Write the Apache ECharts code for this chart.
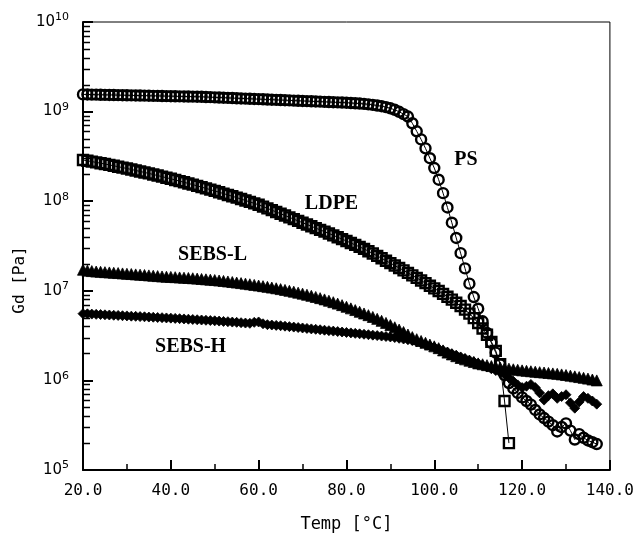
<!DOCTYPE html>
<html>
<head>
<meta charset="utf-8">
<script src="https://cdn.jsdelivr.net/npm/echarts@6/dist/echarts.min.js"></script>
<style>
  html, body { margin: 0; padding: 0; background: #fff; }
  #chart { width: 637px; height: 538px; }
</style>
</head>
<body>
<div id="chart"></div>
<script>
// Temperature sweep, 1 °C steps
const TEMP_C = [
  20, 21, 22, 23, 24, 25, 26, 27, 28, 29,
  30, 31, 32, 33, 34, 35, 36, 37, 38, 39,
  40, 41, 42, 43, 44, 45, 46, 47, 48, 49,
  50, 51, 52, 53, 54, 55, 56, 57, 58, 59,
  60, 61, 62, 63, 64, 65, 66, 67, 68, 69,
  70, 71, 72, 73, 74, 75, 76, 77, 78, 79,
  80, 81, 82, 83, 84, 85, 86, 87, 88, 89,
  90, 91, 92, 93, 94, 95, 96, 97, 98, 99,
  100, 101, 102, 103, 104, 105, 106, 107, 108, 109,
  110, 111, 112, 113, 114, 115, 116, 117, 118, 119,
  120, 121, 122, 123, 124, 125, 126, 127, 128, 129,
  130, 131, 132, 133, 134, 135, 136, 137
];

// log10(Gd / Pa) for each material, one value per temperature step
const PS_LOG_GD = [
  9.192, 9.191, 9.190, 9.189, 9.188, 9.187, 9.186, 9.185, 9.184, 9.183,
  9.182, 9.181, 9.180, 9.179, 9.178, 9.177, 9.176, 9.175, 9.174, 9.173,
  9.172, 9.171, 9.170, 9.169, 9.168, 9.167, 9.166, 9.165, 9.163, 9.161,
  9.159, 9.157, 9.155, 9.153, 9.151, 9.149, 9.147, 9.145, 9.143, 9.141,
  9.139, 9.137, 9.135, 9.133, 9.131, 9.129, 9.127, 9.125, 9.123, 9.121,
  9.119, 9.117, 9.115, 9.113, 9.111, 9.109, 9.107, 9.105, 9.103, 9.101,
  9.099, 9.096, 9.093, 9.090, 9.086, 9.081, 9.075, 9.068, 9.060, 9.050,
  9.037, 9.020, 8.998, 8.972, 8.945, 8.870, 8.780, 8.690, 8.590, 8.480,
  8.370, 8.240, 8.090, 7.930, 7.760, 7.590, 7.420, 7.250, 7.080, 6.930,
  6.800, 6.660, 6.530, 6.420, 6.310, 6.180, 6.060, 5.970, 5.910, 5.860,
  5.810, 5.770, 5.730, 5.670, 5.620, 5.580, 5.540, 5.500, 5.430, 5.480,
  5.520, 5.440, 5.340, 5.400, 5.360, 5.330, 5.310, 5.290
];

const LDPE_LOG_GD = [
  8.460, 8.451, 8.442, 8.433, 8.424, 8.415, 8.405, 8.395, 8.385, 8.375,
  8.365, 8.354, 8.343, 8.332, 8.321, 8.310, 8.298, 8.286, 8.274, 8.262,
  8.250, 8.237, 8.224, 8.211, 8.198, 8.185, 8.171, 8.157, 8.143, 8.129,
  8.115, 8.100, 8.085, 8.070, 8.055, 8.040, 8.024, 8.008, 7.992, 7.976,
  7.960, 7.940, 7.920, 7.900, 7.880, 7.860, 7.840, 7.820, 7.800, 7.780,
  7.760, 7.740, 7.720, 7.700, 7.680, 7.660, 7.640, 7.619, 7.598, 7.577,
  7.556, 7.534, 7.512, 7.490, 7.468, 7.442, 7.416, 7.390, 7.363, 7.336,
  7.309, 7.282, 7.255, 7.228, 7.200, 7.172, 7.144, 7.115, 7.086, 7.057,
  7.027, 6.997, 6.966, 6.934, 6.901, 6.866, 6.830, 6.790, 6.745, 6.695,
  6.640, 6.580, 6.510, 6.430, 6.330, 6.180, 5.770, 5.300
];

const SEBS_L_LOG_GD = [
  7.235, 7.225, 7.220, 7.215, 7.212, 7.208, 7.205, 7.201, 7.198, 7.194,
  7.190, 7.187, 7.183, 7.180, 7.176, 7.172, 7.168, 7.164, 7.160, 7.157,
  7.155, 7.152, 7.149, 7.146, 7.143, 7.140, 7.136, 7.132, 7.128, 7.124,
  7.120, 7.115, 7.110, 7.104, 7.098, 7.092, 7.086, 7.080, 7.073, 7.066,
  7.059, 7.052, 7.044, 7.036, 7.028, 7.019, 7.010, 7.000, 6.990, 6.979,
  6.968, 6.956, 6.944, 6.931, 6.918, 6.904, 6.889, 6.873, 6.857, 6.840,
  6.822, 6.804, 6.785, 6.766, 6.747, 6.728, 6.708, 6.687, 6.665, 6.642,
  6.618, 6.593, 6.567, 6.540, 6.512, 6.483, 6.460, 6.440, 6.420, 6.400,
  6.380, 6.360, 6.335, 6.310, 6.290, 6.270, 6.250, 6.235, 6.220, 6.205,
  6.190, 6.180, 6.170, 6.160, 6.152, 6.145, 6.138, 6.131, 6.124, 6.118,
  6.112, 6.107, 6.102, 6.097, 6.092, 6.088, 6.083, 6.078, 6.073, 6.067,
  6.060, 6.053, 6.045, 6.037, 6.029, 6.020, 6.010, 6.000
];

const SEBS_H_LOG_GD = [
  6.745, 6.743, 6.740, 6.737, 6.735, 6.732, 6.730, 6.727, 6.725, 6.722,
  6.720, 6.717, 6.715, 6.712, 6.710, 6.707, 6.705, 6.702, 6.700, 6.697,
  6.695, 6.692, 6.689, 6.686, 6.683, 6.680, 6.677, 6.674, 6.671, 6.668,
  6.665, 6.662, 6.658, 6.655, 6.651, 6.648, 6.644, 6.640, 6.637, 6.648,
  6.652, 6.632, 6.622, 6.618, 6.614, 6.610, 6.605, 6.600, 6.595, 6.590,
  6.585, 6.580, 6.575, 6.570, 6.565, 6.560, 6.555, 6.550, 6.545, 6.540,
  6.535, 6.530, 6.525, 6.520, 6.515, 6.510, 6.505, 6.500, 6.495, 6.490,
  6.485, 6.478, 6.470, 6.462, 6.454, 6.445, 6.430, 6.415, 6.400, 6.385,
  6.370, 6.352, 6.334, 6.316, 6.298, 6.280, 6.262, 6.244, 6.226, 6.208,
  6.190, 6.170, 6.150, 6.130, 6.110, 6.090, 6.070, 6.030, 5.990, 5.950,
  5.920, 5.935, 5.955, 5.920, 5.860, 5.780, 5.830, 5.850, 5.800, 5.820,
  5.840, 5.750, 5.690, 5.760, 5.820, 5.800, 5.770, 5.735
];

// Axis tick values
const X_TICKS = [20, 40, 60, 80, 100, 120, 140];
const Y_DECADES = [5, 6, 7, 8, 9, 10];
const Y_MINOR_MULTIPLIERS = [2, 3, 4, 5, 6, 7, 8, 9];

const MONO = '"DejaVu Sans Mono", monospace';
const SERIF_BOLD = 'bold 20px "Liberation Serif", "Times New Roman", serif';
const INK = '#000';

const toPairs = (logs) => logs.map((g, i) => [TEMP_C[i], Math.pow(10, g)]);

// Minor log ticks (2..9 × 10^n) along the left axis
const minorYValues = [];
Y_DECADES.slice(0, -1).forEach(e => {
  Y_MINOR_MULTIPLIERS.forEach(m => minorYValues.push(m * Math.pow(10, e)));
});

const chart = echarts.init(document.getElementById('chart'), null, { renderer: 'canvas' });

const curve = (name, logs, symbol, size, style, z) => ({
  name,
  type: 'line',
  data: toPairs(logs),
  symbol,
  symbolSize: size,
  showSymbol: true,
  showAllSymbol: true,
  z,
  lineStyle: { color: INK, width: 1 },
  itemStyle: style,
  emphasis: { disabled: true },
  silent: true
});

const HOLLOW = { color: 'rgba(0,0,0,0)', borderColor: INK, borderWidth: 2.4 };
const SOLID = { color: INK, borderColor: INK, borderWidth: 0.8 };

chart.setOption({
  animation: false,
  backgroundColor: '#fff',
  grid: {
    left: 83, right: 24, top: 22, bottom: 65,
    show: true, borderColor: INK, borderWidth: 1
  },
  xAxis: {
    type: 'value',
    min: 20, max: 140, interval: 20,
    axisLine: { lineStyle: { color: INK, width: 2 } },
    axisTick: { show: true, inside: true, length: 10, lineStyle: { color: INK, width: 2 } },
    minorTick: { show: true, splitNumber: 2, length: 6, lineStyle: { color: INK, width: 1.5 } },
    splitLine: { show: false },
    axisLabel: {
      color: INK, fontFamily: MONO, fontSize: 16, margin: 13,
      formatter: v => v.toFixed(1)
    },
    name: 'Temp [°C]',
    nameLocation: 'middle',
    nameGap: 46,
    nameTextStyle: { color: INK, fontFamily: MONO, fontSize: 17 }
  },
  yAxis: {
    type: 'log',
    logBase: 10,
    min: 1e5, max: 1e10,
    axisLine: { lineStyle: { color: INK, width: 2 } },
    axisTick: { show: true, inside: true, length: 10, lineStyle: { color: INK, width: 2 } },
    splitLine: { show: false },
    axisLabel: {
      color: INK, margin: 14,
      formatter: v => '{b|10}{s|' + Math.round(Math.log10(v)) + '}',
      rich: {
        b: { fontFamily: '"DejaVu Sans", sans-serif', fontSize: 15, color: INK },
        s: { fontFamily: '"DejaVu Sans", sans-serif', fontSize: 11, color: INK, padding: [0, 0, 9, 0] }
      }
    }
  },
  series: [
    curve('SEBS-H', SEBS_H_LOG_GD, 'diamond', 10, SOLID, 2),
    curve('SEBS-L', SEBS_L_LOG_GD, 'triangle', 11, SOLID, 3),
    curve('LDPE', LDPE_LOG_GD, 'rect', 10, HOLLOW, 4),
    curve('PS', PS_LOG_GD, 'circle', 10, HOLLOW, 5)
  ]
});

// Short inward ticks at the minor log positions, placed through the y scale
const tickGraphics = minorYValues.map(v => {
  const p = chart.convertToPixel({ gridIndex: 0 }, [X_TICKS[0], v]);
  return {
    type: 'line', z: 30, silent: true,
    shape: { x1: p[0], y1: Math.round(p[1]) + 0.5, x2: p[0] + 7, y2: Math.round(p[1]) + 0.5 },
    style: { stroke: INK, lineWidth: 1.5 }
  };
});

// Curve names, anchored in data space (temperature, Gd)
const CURVE_TAGS = [
  { text: 'PS', at: [107.2, 2.9e8] },
  { text: 'LDPE', at: [76.6, 9.25e7] },
  { text: 'SEBS-L', at: [49.5, 2.55e7] },
  { text: 'SEBS-H', at: [44.5, 2.37e6] }
];

const tagGraphics = CURVE_TAGS.map(tag => {
  const p = chart.convertToPixel({ gridIndex: 0 }, tag.at);
  return {
    type: 'text', x: p[0], y: p[1], z: 20, silent: true,
    style: { text: tag.text, font: SERIF_BOLD, fill: INK, align: 'center', verticalAlign: 'middle' }
  };
});

const nameGraphic = {
  type: 'text', x: 20, y: 280, rotation: Math.PI / 2, z: 20, silent: true,
  style: { text: 'Gd [Pa]', font: '16px ' + MONO, fill: INK, align: 'center', verticalAlign: 'middle' }
};

chart.setOption({ graphic: tickGraphics.concat(tagGraphics, [nameGraphic]) });
</script>
</body>
</html>
